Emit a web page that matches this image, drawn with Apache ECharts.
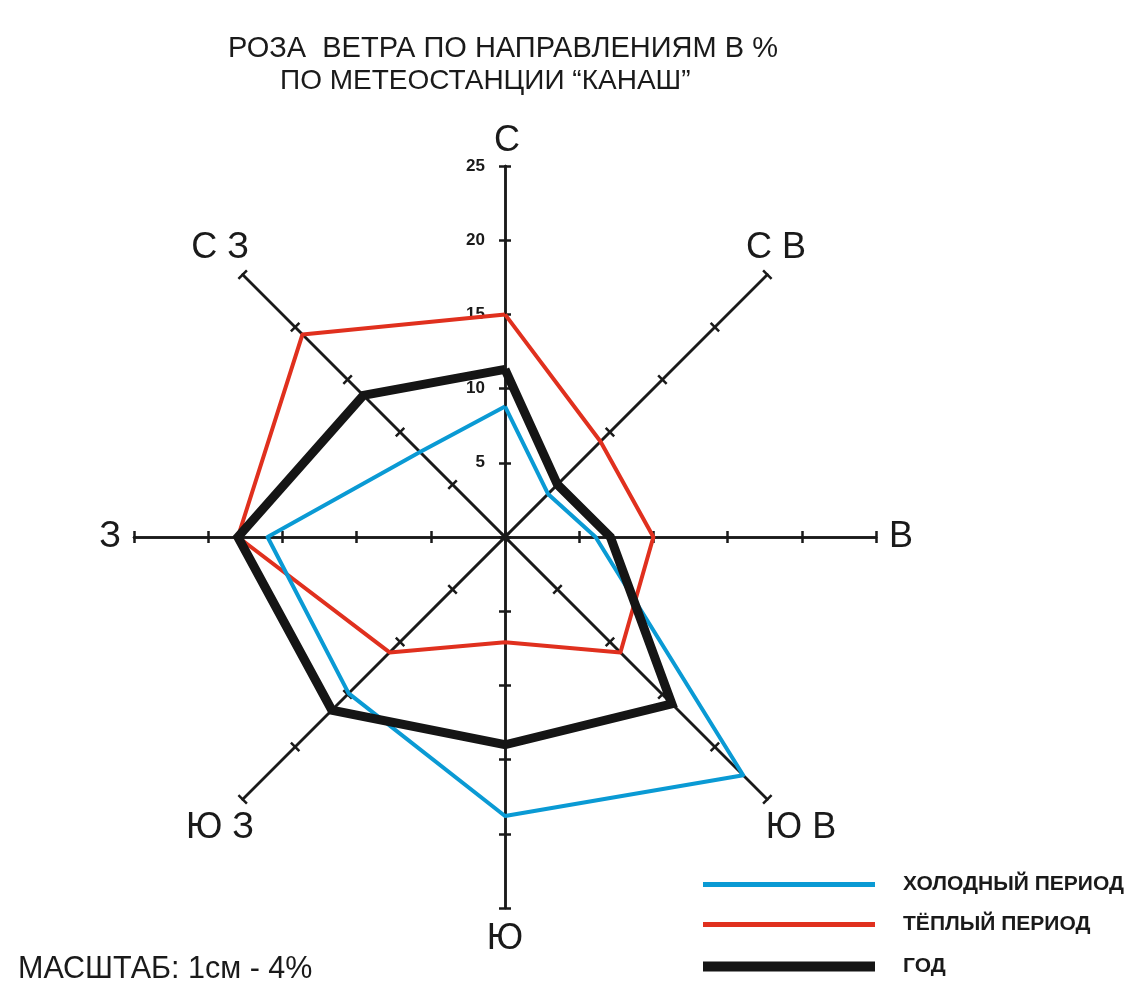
<!DOCTYPE html>
<html><head><meta charset="utf-8">
<script src="https://cdn.jsdelivr.net/npm/echarts@6/dist/echarts.min.js"></script>
<style>html,body{margin:0;padding:0;background:#fff}#c{width:1146px;height:991px}</style>
</head><body><div id="c"></div>
<script>
// compass order: N, NE, E, SE, S, SW, W, NW
const directions = ['С', 'С В', 'В', 'Ю В', 'Ю', 'Ю З', 'З', 'С З'];
const cold = [8.8, 4.1, 6.1, 22.7, 18.8, 14.9, 16.0, 8.1];
const warm = [15.0, 9.1, 10.0, 11.0, 7.1, 11.0, 18.0, 19.3];
const year = [11.3, 5.0, 7.1, 15.9, 14.0, 16.5, 18.0, 13.5];
const scaleTicks = [0, 5, 10, 15, 20, 25];
const seriesNames = ['ХОЛОДНЫЙ ПЕРИОД', 'ТЁПЛЫЙ ПЕРИОД', 'ГОД'];

const FONT = '"Liberation Sans", Arial, sans-serif';
const order = [0, 7, 6, 5, 4, 3, 2, 1]; // counter-clockwise placement used by radar
const maxV = scaleTicks[scaleTicks.length - 1];
const indicator = order.map(i => ({ name: directions[i], max: maxV, min: 0 }));
const reorder = arr => order.map(i => arr[i]);

const CX = 505, CY = 537, R = 371;
// label anchor points for direction names (compass order)
const namePos = [[507, 141], [776, 248], [901, 537], [801, 828], [505, 939], [220, 828], [110, 537], [220, 248]];

const axisBase = {
  center: [CX, CY], radius: R, startAngle: 90, shape: 'polygon',
  splitNumber: scaleTicks.length - 1,
  indicator: indicator,
  axisName: { show: false },
  splitLine: { show: false }, splitArea: { show: false },
  axisLine: { lineStyle: { color: '#1a1a1a', width: 2.5 } }
};

const chart = echarts.init(document.getElementById('c'));
chart.setOption({
  animation: false,
  backgroundColor: '#fff',
  title: [
    { text: 'РОЗА  ВЕТРА ПО НАПРАВЛЕНИЯМ В %', left: 223, top: 29,
      textStyle: { fontFamily: FONT, fontSize: 29, fontWeight: 'normal', color: '#1a1a1a' } },
    { text: 'ПО МЕТЕОСТАНЦИИ “КАНАШ”', left: 275, top: 62,
      textStyle: { fontFamily: FONT, fontSize: 28, fontWeight: 'normal', color: '#1a1a1a' } },
    { text: 'МАСШТАБ: 1см - 4%', left: 13, top: 949,
      textStyle: { fontFamily: FONT, fontSize: 30.5, fontWeight: 'normal', color: '#1a1a1a' } }
  ],
  graphic: directions.map((d, i) => ({
    type: 'text', x: namePos[i][0], y: namePos[i][1], silent: true,
    style: { text: d, fill: '#1a1a1a', font: '36px ' + FONT, align: 'center', verticalAlign: 'middle' }
  })),
  radar: [
    Object.assign({}, axisBase, {
      axisTick: { show: true, length: 6, lineStyle: { color: '#1a1a1a', width: 2.5 } }
    }),
    Object.assign({}, axisBase, {
      axisTick: { show: true, length: -6, lineStyle: { color: '#1a1a1a', width: 2.5 } }
    })
  ],
  polar: { center: [CX, CY], radius: R },
  angleAxis: { show: false, type: 'value', min: 0, max: 360, startAngle: 90 },
  radiusAxis: {
    type: 'value', min: 0, max: maxV, interval: 5,
    axisLine: { show: false }, axisTick: { show: false }, splitLine: { show: false },
    axisLabel: { show: true, showMinLabel: false, margin: 20, fontFamily: FONT, fontSize: 17, fontWeight: 'bold', color: '#1a1a1a' }
  },
  legend: [0, 1, 2].map((k, idx) => ({
    data: [seriesNames[k]],
    left: 698, top: [869, 909, 951][idx],
    icon: 'rect', itemWidth: 172, itemHeight: [5, 5, 10][idx],
    selectedMode: false,
    textStyle: { fontFamily: FONT, fontSize: 21, fontWeight: 'bold', color: '#1a1a1a', padding: [0, 0, 0, 23] }
  })),
  series: [{
    type: 'radar', radarIndex: 0, symbol: 'none',
    data: [
      { name: seriesNames[1], value: reorder(warm),
        lineStyle: { color: '#e0301e', width: 4 }, itemStyle: { color: '#e0301e' } },
      { name: seriesNames[0], value: reorder(cold),
        lineStyle: { color: '#0a9ad4', width: 4 }, itemStyle: { color: '#0a9ad4' } },
      { name: seriesNames[2], value: reorder(year),
        lineStyle: { color: '#151515', width: 9, join: 'miter' }, itemStyle: { color: '#151515' } }
    ]
  }]
});
</script></body></html>
